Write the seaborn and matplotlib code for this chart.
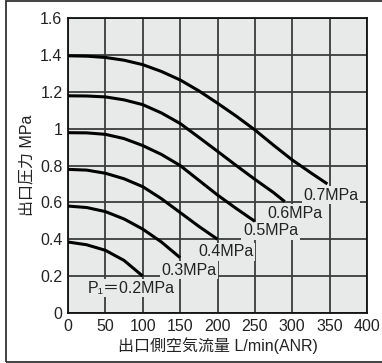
import numpy as np
import pandas as pd
import matplotlib
matplotlib.use("Agg")
import matplotlib.pyplot as plt
import seaborn as sns
from matplotlib.patches import Rectangle

# ---- data ----
settings = ["0.2", "0.3", "0.4", "0.5", "0.6", "0.7"]

flow_02 = [0, 25, 50, 75, 100]
pres_02 = [0.385, 0.37, 0.34, 0.285, 0.20]

flow_03 = [0, 25, 50, 75, 100, 125, 150]
pres_03 = [0.58, 0.572, 0.55, 0.51, 0.455, 0.385, 0.30]

flow_04 = [0, 25, 50, 75, 100, 125, 150, 175, 200]
pres_04 = [0.779, 0.775, 0.758, 0.728, 0.685, 0.62, 0.545, 0.47, 0.40]

flow_05 = [0, 25, 50, 75, 100, 125, 150, 175, 200, 225, 250]
pres_05 = [0.978, 0.977, 0.969, 0.946, 0.908, 0.86, 0.80, 0.72, 0.64, 0.567, 0.497]

flow_06 = [0, 25, 50, 75, 100, 125, 150, 175, 200, 225, 250, 275, 290]
pres_06 = [1.178, 1.177, 1.172, 1.156, 1.13, 1.085, 1.028, 0.953, 0.877, 0.80, 0.725, 0.653, 0.604]

flow_07 = [0, 25, 50, 75, 100, 125, 150, 175, 200, 225, 250, 275, 300, 325, 347]
pres_07 = [1.395, 1.393, 1.386, 1.371, 1.347, 1.31, 1.264, 1.205, 1.138, 1.068, 0.993, 0.91, 0.83, 0.76, 0.70]

label_texts = ["P\u2081\uff1d0.2MPa", "0.3MPa", "0.4MPa", "0.5MPa", "0.6MPa", "0.7MPa"]

x_ticks = [0, 50, 100, 150, 200, 250, 300, 350, 400]
y_ticks = [0, 0.2, 0.4, 0.6, 0.8, 1.0, 1.2, 1.4, 1.6]
y_tick_labels = ["0", "0.2", "0.4", "0.6", "0.8", "1", "1.2", "1.4", "1.6"]

x_label = "出口側空気流量 L/min(ANR)"
y_label = "出口圧力 MPa"

# ---- build long-form table ----
flows = [flow_02, flow_03, flow_04, flow_05, flow_06, flow_07]
press = [pres_02, pres_03, pres_04, pres_05, pres_06, pres_07]
rows = []
for s, fx, py in zip(settings, flows, press):
    for a, b in zip(fx, py):
        rows.append({"flow": a, "pressure": b, "setting": s})
df = pd.DataFrame(rows)

# ---- style ----
bg = "#e8e9e9"
sns.set_theme(style="white", rc={"axes.facecolor": bg})
fam = ["Liberation Sans", "DejaVu Sans", "Noto Sans CJK JP"]
plt.rcParams["font.family"] = fam
plt.rcParams["text.color"] = "#222222"

fig = plt.figure(figsize=(3.82, 3.63), dpi=100)
fig.patch.set_facecolor("white")
ax = fig.add_axes([68 / 382, 50 / 363, (367 - 68) / 382, (313 - 18) / 363])
ax.set_facecolor(bg)

ax.set_xlim(0, 400)
ax.set_ylim(0, 1.6)
ax.set_xticks(x_ticks)
ax.set_yticks(y_ticks)
ax.set_yticklabels(y_tick_labels)
ax.grid(True, color="#3c3c3c", linewidth=1.3, zorder=1)
ax.set_axisbelow(True)
ax.tick_params(axis="both", length=0, labelsize=11.5, colors="#222222", pad=4)
for sp in ax.spines.values():
    sp.set_color("#111111")
    sp.set_linewidth(1.3)

sns.lineplot(data=df, x="flow", y="pressure", hue="setting",
             palette=["black"] * len(settings), legend=False,
             estimator=None, sort=False, linewidth=2.2, ax=ax, zorder=4)
for ln in ax.get_lines():
    ln.set_solid_joinstyle("round")
    ln.set_solid_capstyle("butt")

label_x = [26, 125, 174, 234, 267, 315]
label_y = [0.134, 0.233, 0.332, 0.446, 0.541, 0.64]
for t, lx, ly in zip(label_texts, label_x, label_y):
    ax.text(lx, ly, t, ha="left", va="center", fontsize=11.5, family=fam,
            color="#222222", zorder=3,
            bbox=dict(facecolor=bg, edgecolor="none", pad=1.2))

ax.set_xlabel(x_label, fontsize=11.5, labelpad=3, color="#222222")
ax.set_ylabel(y_label, fontsize=11.5, labelpad=4, color="#222222")

fig.add_artist(Rectangle((6 / 382, 1.3 / 363), 1.0, (361.7 - 1.3) / 363,
                         transform=fig.transFigure, fill=False,
                         edgecolor="#333333", linewidth=1.3))

fig.savefig("out.png", dpi=100, facecolor="white")
